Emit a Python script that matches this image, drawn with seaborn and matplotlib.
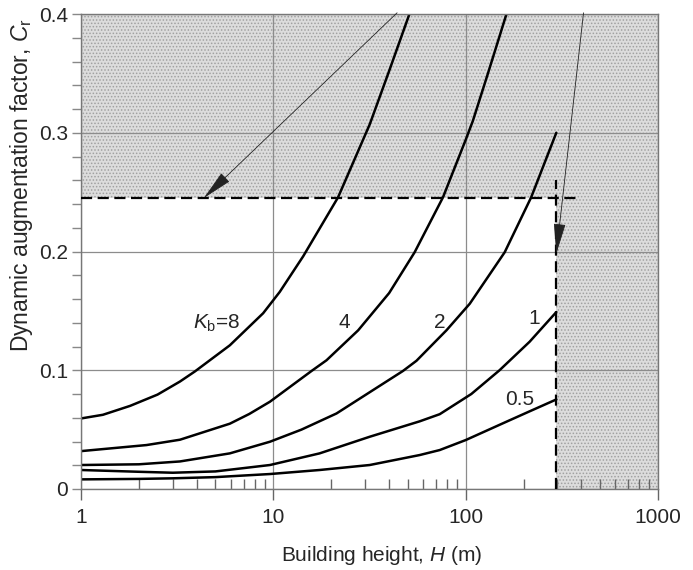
"""
Dynamic augmentation factor C_r vs building height H for several K_b values.
Recreated from a handbook figure; values read off the printed curves.
"""

import numpy as np
import pandas as pd
import matplotlib
matplotlib.use("Agg")
import matplotlib.pyplot as plt
from matplotlib.ticker import FixedLocator, LogLocator, MultipleLocator, NullFormatter
import seaborn as sns

# ------------------------------------------------------------------
# Data
# ------------------------------------------------------------------
kb_values = ["8", "4", "2", "1", "0.5"]

h_kb8 = [1, 1.3, 1.8, 2.5, 3.27, 3.91, 5.94, 8.85, 10.8, 14.3, 21.7, 31.7, 40, 51]
cr_kb8 = [0.0594, 0.0625, 0.070, 0.0795, 0.0905, 0.099, 0.121, 0.148, 0.166, 0.196, 0.2456, 0.307, 0.352, 0.400]

h_kb4 = [1, 2.19, 3.27, 5.94, 7.5, 9.6, 15.8, 18.9, 27.6, 40, 54.3, 76.2, 100, 109, 130, 163]
cr_kb4 = [0.0319, 0.037, 0.0415, 0.055, 0.0632, 0.0735, 0.0994, 0.1084, 0.1336, 0.165, 0.1994, 0.2456, 0.294, 0.310, 0.349, 0.400]

h_kb2 = [1, 2, 3.27, 5.94, 9.6, 14, 21.3, 47.2, 55.5, 79.4, 105, 159.6, 219, 296]
cr_kb2 = [0.0202, 0.0208, 0.0232, 0.030, 0.0398, 0.050, 0.0636, 0.0994, 0.108, 0.1336, 0.156, 0.1994, 0.2456, 0.300]

h_kb1 = [1, 2, 3, 5, 9.6, 17.4, 31.7, 57.7, 73.3, 107, 150, 215, 296]
cr_kb1 = [0.016, 0.0145, 0.0137, 0.0148, 0.0202, 0.030, 0.044, 0.057, 0.063, 0.080, 0.100, 0.124, 0.149]

h_kb05 = [1, 2, 3, 5, 9.6, 17.4, 31.7, 57.7, 73.3, 100, 162.6, 215, 296]
cr_kb05 = [0.0081, 0.0085, 0.009, 0.010, 0.0126, 0.016, 0.0202, 0.0286, 0.0328, 0.0412, 0.0566, 0.0654, 0.0754]

# applicability limits of the method
h_limit = 296
cr_limit = 0.245

# curve labels: text, H, C_r
label_texts = [r"$K_\mathrm{b}$=8", "4", "2", "1", "0.5"]
label_h = [5.1, 23.5, 73, 228, 191]
label_cr = [0.1395, 0.140, 0.140, 0.144, 0.075]

x_ticks = [1, 10, 100, 1000]
x_ticklabels = ["1", "10", "100", "1000"]
y_ticks = [0, 0.1, 0.2, 0.3, 0.4]
y_ticklabels = ["0", "0.1", "0.2", "0.3", "0.4"]


def main():
    sns.set_style("ticks")
    plt.rcParams["font.family"] = ["Liberation Sans", "DejaVu Sans"]
    plt.rcParams["mathtext.fontset"] = "custom"
    plt.rcParams["mathtext.rm"] = "Liberation Sans"
    plt.rcParams["mathtext.it"] = "Liberation Sans:italic"
    plt.rcParams["hatch.linewidth"] = 0.7

    frames = []
    for kb, h, cr in zip(kb_values,
                         [h_kb8, h_kb4, h_kb2, h_kb1, h_kb05],
                         [cr_kb8, cr_kb4, cr_kb2, cr_kb1, cr_kb05]):
        frames.append(pd.DataFrame({"H": h, "Cr": cr, "Kb": kb}))
    df = pd.concat(frames, ignore_index=True)

    fig = plt.figure(figsize=(6.93, 5.70), dpi=100)
    ax = fig.add_axes([81 / 693, 1 - 489 / 570, 577 / 693, 475 / 570])
    ax.set_xscale("log")
    ax.set_xlim(1, 1000)
    ax.set_ylim(0, 0.4)

    # shaded (out of range) zones
    shade = dict(facecolor="#dcdcdc", edgecolor="#a0a0a0", hatch=".....", linewidth=0, zorder=0.1)
    ax.axhspan(cr_limit, 0.4, **shade)
    ax.fill_between([h_limit, 1000], 0, cr_limit, **shade)

    ax.set_axisbelow(True)
    ax.grid(which="major", color="#8c8c8c", lw=0.9)

    sns.lineplot(data=df, x="H", y="Cr", units="Kb", estimator=None,
                 color="black", lw=1.8, ax=ax, legend=False, sort=True)

    # limit lines
    ax.plot([1, 380], [cr_limit, cr_limit], color="black", lw=1.6, dashes=(5, 2.5), zorder=3)
    ax.plot([h_limit, h_limit], [0, 0.26], color="black", lw=1.6, dashes=(5, 2.5), zorder=3)

    arrow = dict(arrowstyle="-|>,head_length=1.3,head_width=0.25", color="#222222",
                 lw=0.6, shrinkA=0, shrinkB=0, mutation_scale=15)
    ax.annotate("", xy=(4.35, cr_limit), xytext=(44, 0.401), arrowprops=arrow,
                annotation_clip=False, zorder=4)
    ax.annotate("", xy=(h_limit, 0.198), xytext=(410, 0.401), arrowprops=arrow,
                annotation_clip=False, zorder=4)

    for txt, h, cr in zip(label_texts, label_h, label_cr):
        ax.text(h, cr, txt, ha="center", va="center", fontsize=15)

    # ticks
    ax.xaxis.set_major_locator(FixedLocator(x_ticks))
    ax.set_xticklabels(x_ticklabels)
    ax.xaxis.set_minor_locator(LogLocator(base=10, subs=np.arange(2, 10)))
    ax.xaxis.set_minor_formatter(NullFormatter())
    ax.set_yticks(y_ticks)
    ax.set_yticklabels(y_ticklabels)
    ax.yaxis.set_minor_locator(MultipleLocator(0.02))

    ax.tick_params(axis="x", which="major", direction="out", length=8, width=1,
                   color="#666666", labelsize=15, pad=6)
    ax.tick_params(axis="x", which="minor", direction="in", length=7, width=1,
                   color="#666666")
    ax.tick_params(axis="y", which="both", direction="out", length=6.5, width=1,
                   color="#888888", labelsize=15, pad=3)

    for sp in ax.spines.values():
        sp.set_color("#777777")
        sp.set_linewidth(1)

    ax.set_xlabel(r"Building height, $H$ (m)", fontsize=15)
    ax.set_ylabel(r"Dynamic augmentation factor, $C_\mathrm{r}$", fontsize=16.5)
    ax.xaxis.set_label_coords(0.522, -0.115)
    ax.yaxis.set_label_coords(-0.08, 0.64)

    fig.savefig("out.png", dpi=100)
    plt.close(fig)


if __name__ == "__main__":
    main()
